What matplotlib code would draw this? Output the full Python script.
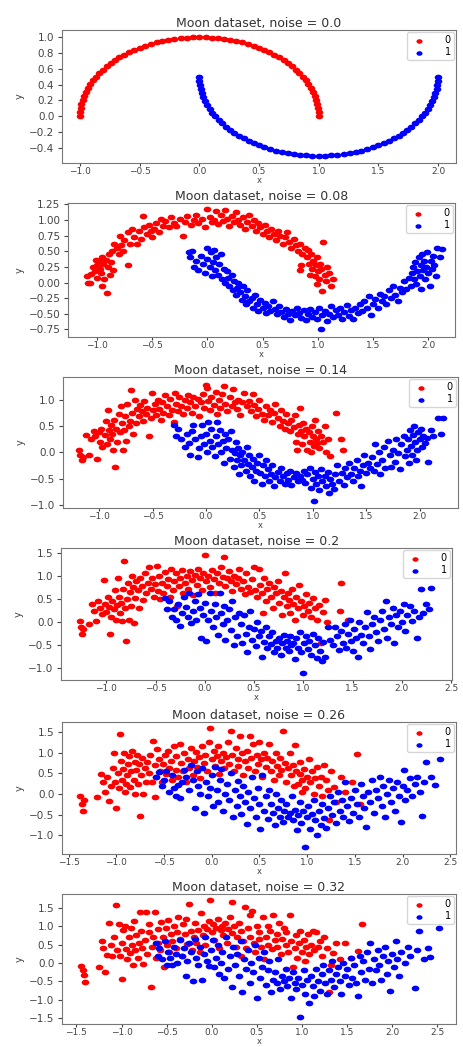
import numpy as np
import matplotlib
matplotlib.use('Agg')
import matplotlib.pyplot as plt
from matplotlib.path import Path
from matplotlib.transforms import Affine2D

noise_labels = ['0.0', '0.08', '0.14', '0.2', '0.26', '0.32']
class_names = ['0', '1']

# noise = 0.0 : the two clean half circles
clean_red_x = [1.0, 0.9986, 0.9945, 0.9877, 0.9781, 0.9659, 0.9511, 0.9336, 0.9135, 0.891, 0.866, 0.8387,
               0.809, 0.7771, 0.7431, 0.7071, 0.6691, 0.6293, 0.5878, 0.5446, 0.5, 0.454, 0.4067, 0.3584,
               0.309, 0.2588, 0.2079, 0.1564, 0.1045, 0.0523, 0.0, -0.0523, -0.1045, -0.1564, -0.2079,
               -0.2588, -0.309, -0.3584, -0.4067, -0.454, -0.5, -0.5446, -0.5878, -0.6293, -0.6691,
               -0.7071, -0.7431, -0.7771, -0.809, -0.8387, -0.866, -0.891, -0.9135, -0.9336, -0.9511,
               -0.9659, -0.9781, -0.9877, -0.9945, -0.9986, -1.0]
clean_red_y = [0.0, 0.0523, 0.1045, 0.1564, 0.2079, 0.2588, 0.309, 0.3584, 0.4067, 0.454, 0.5, 0.5446,
               0.5878, 0.6293, 0.6691, 0.7071, 0.7431, 0.7771, 0.809, 0.8387, 0.866, 0.891, 0.9135, 0.9336,
               0.9511, 0.9659, 0.9781, 0.9877, 0.9945, 0.9986, 1.0, 0.9986, 0.9945, 0.9877, 0.9781, 0.9659,
               0.9511, 0.9336, 0.9135, 0.891, 0.866, 0.8387, 0.809, 0.7771, 0.7431, 0.7071, 0.6691, 0.6293,
               0.5878, 0.5446, 0.5, 0.454, 0.4067, 0.3584, 0.309, 0.2588, 0.2079, 0.1564, 0.1045, 0.0523, 0.0]
clean_blue_x = [0.0, 0.0014, 0.0055, 0.0123, 0.0219, 0.0341, 0.0489, 0.0664, 0.0865, 0.109, 0.134, 0.1613,
                0.191, 0.2229, 0.2569, 0.2929, 0.3309, 0.3707, 0.4122, 0.4554, 0.5, 0.546, 0.5933, 0.6416,
                0.691, 0.7412, 0.7921, 0.8436, 0.8955, 0.9477, 1.0, 1.0523, 1.1045, 1.1564, 1.2079, 1.2588,
                1.309, 1.3584, 1.4067, 1.454, 1.5, 1.5446, 1.5878, 1.6293, 1.6691, 1.7071, 1.7431, 1.7771,
                1.809, 1.8387, 1.866, 1.891, 1.9135, 1.9336, 1.9511, 1.9659, 1.9781, 1.9877, 1.9945, 1.9986, 2.0]
clean_blue_y = [0.5, 0.4477, 0.3955, 0.3436, 0.2921, 0.2412, 0.191, 0.1416, 0.0933, 0.046, 0.0, -0.0446,
                -0.0878, -0.1293, -0.1691, -0.2071, -0.2431, -0.2771, -0.309, -0.3387, -0.366, -0.391,
                -0.4135, -0.4336, -0.4511, -0.4659, -0.4781, -0.4877, -0.4945, -0.4986, -0.5, -0.4986,
                -0.4945, -0.4877, -0.4781, -0.4659, -0.4511, -0.4336, -0.4135, -0.391, -0.366, -0.3387,
                -0.309, -0.2771, -0.2431, -0.2071, -0.1691, -0.1293, -0.0878, -0.0446, 0.0, 0.046, 0.0933,
                0.1416, 0.191, 0.2412, 0.2921, 0.3436, 0.3955, 0.4477, 0.5]

# noise = 0.08
n08_red = [(-1.09, 0.10), (-1.08, 0.00), (-1.06, 0.00), (-1.05, 0.13), (-1.03, 0.25), (-1.02, 0.18), (-1.00, 0.28),
           (-1.00, 0.08), (-0.98, 0.35), (-0.97, 0.22), (-0.96, 0.15), (-0.95, 0.40), (-0.94, 0.30), (-0.93, 0.05),
           (-0.92, 0.36), (-0.91, -0.16), (-0.90, 0.25), (-0.89, 0.45), (-0.88, 0.12), (-0.87, 0.33), (-0.86, 0.50),
           (-0.85, 0.20), (-0.84, 0.62), (-0.95, -0.05), (-1.01, 0.36), (-0.82, 0.55), (-0.80, 0.45), (-0.79, 0.75),
           (-0.78, 0.60), (-0.76, 0.50), (-0.75, 0.68), (-0.72, 0.28), (-0.72, 0.80), (-0.70, 0.62), (-0.68, 0.85),
           (-0.66, 0.73), (-0.64, 0.62), (-0.62, 0.82), (-0.60, 0.70), (-0.58, 1.07), (-0.57, 0.88), (-0.55, 0.78),
           (-0.53, 0.92), (-0.51, 0.82), (-0.50, 0.72), (-0.48, 0.86), (-0.46, 0.95), (-0.44, 0.80), (-0.42, 1.02),
           (-0.40, 0.90), (-0.38, 0.98), (-0.35, 0.88), (-0.33, 1.05), (-0.30, 0.95), (-0.28, 0.90), (-0.25, 1.02),
           (-0.22, 0.75), (-0.20, 0.97), (-0.18, 1.06), (-0.15, 0.92), (-0.12, 1.00), (-0.10, 1.08), (-0.08, 0.95),
           (-0.05, 1.02), (-0.02, 0.88), (0.00, 1.18), (0.02, 1.05), (0.04, 0.97), (0.06, 1.00), (0.08, 1.15),
           (0.10, 0.93), (0.12, 1.08), (0.14, 0.98), (0.16, 1.16), (0.18, 1.02), (0.20, 0.90), (0.22, 1.06),
           (0.24, 0.96), (0.26, 1.12), (0.28, 1.00), (0.30, 0.92), (0.32, 1.05), (0.34, 0.85), (0.36, 0.97),
           (0.38, 1.08), (0.40, 0.90), (0.42, 1.00), (0.44, 0.83), (0.46, 0.95), (0.48, 0.88), (0.50, 0.78),
           (0.52, 0.92), (0.54, 0.82), (0.56, 0.72), (0.58, 0.86), (0.60, 0.78), (0.62, 0.68), (0.64, 0.82),
           (0.66, 0.75), (0.68, 0.62), (0.70, 0.72), (0.72, 0.80), (0.74, 0.65), (0.76, 0.55), (0.78, 0.70),
           (0.80, 0.60), (0.82, 0.50), (0.84, 0.62), (0.86, 0.45), (0.88, 0.55), (0.84, 0.20), (0.85, 0.28),
           (0.90, 0.40), (0.91, 0.52), (0.92, 0.30), (0.94, 0.45), (0.95, 0.22), (0.96, 0.35), (0.97, 0.10),
           (0.98, 0.28), (0.99, 0.40), (1.00, 0.18), (1.01, 0.05), (1.02, 0.30), (1.03, 0.22), (1.04, -0.13),
           (1.05, 0.65), (1.06, 0.12), (1.07, 0.02), (1.08, 0.25), (1.10, 0.15), (1.12, -0.05), (1.14, 0.05),
           (0.93, 0.12), (0.99, -0.02)]
n08_blue = [(-0.17, 0.48), (-0.16, 0.40), (-0.14, 0.50), (-0.12, 0.25), (-0.10, 0.35), (-0.08, 0.20), (-0.06, 0.43),
            (-0.04, 0.30), (-0.02, 0.15), (0.00, 0.55), (0.00, 0.38), (0.02, 0.25), (0.03, 0.48), (0.04, 0.10),
            (0.05, 0.33), (0.06, 0.52), (0.07, 0.20), (0.08, 0.40), (0.10, 0.12), (0.11, 0.30), (0.12, 0.45),
            (0.13, 0.05), (0.15, 0.22), (0.16, 0.00), (0.18, 0.18), (0.19, 0.08), (0.20, -0.05), (0.22, 0.12),
            (0.23, -0.12), (0.24, 0.02), (0.26, -0.20), (0.27, -0.08), (0.28, 0.00), (0.30, -0.15), (0.31, -0.28),
            (0.32, -0.05), (0.34, -0.22), (0.35, -0.35), (0.36, -0.12), (0.38, -0.30), (0.40, -0.25), (0.41, -0.40),
            (0.43, -0.20), (0.45, -0.35), (0.46, -0.45), (0.48, -0.28), (0.50, -0.40), (0.52, -0.32), (0.53, -0.48),
            (0.55, -0.38), (0.57, -0.45), (0.59, -0.30), (0.61, -0.42), (0.63, -0.50), (0.65, -0.38), (0.67, -0.47),
            (0.69, -0.55), (0.71, -0.42), (0.73, -0.50), (0.75, -0.60), (0.77, -0.45), (0.79, -0.52), (0.81, -0.40),
            (0.83, -0.48), (0.85, -0.56), (0.87, -0.44), (0.89, -0.60), (0.91, -0.50), (0.93, -0.42), (0.95, -0.55),
            (0.97, -0.47), (0.99, -0.58), (1.01, -0.40), (1.03, -0.75), (1.04, -0.52), (1.06, -0.45), (1.08, -0.62),
            (1.10, -0.50), (1.12, -0.38), (1.14, -0.55), (1.16, -0.44), (1.18, -0.52), (1.20, -0.40), (1.22, -0.58),
            (1.24, -0.47), (1.26, -0.36), (1.28, -0.53), (1.30, -0.44), (1.32, -0.58), (1.34, -0.40), (1.36, -0.48),
            (1.38, -0.35), (1.40, -0.45), (1.42, -0.30), (1.44, -0.40), (1.46, -0.22), (1.48, -0.52), (1.50, -0.35),
            (1.52, -0.27), (1.54, -0.40), (1.56, -0.18), (1.58, -0.30), (1.60, -0.22), (1.62, -0.35), (1.64, -0.12),
            (1.66, -0.25), (1.68, -0.05), (1.70, -0.20), (1.72, -0.30), (1.74, -0.08), (1.76, -0.15), (1.78, 0.02),
            (1.80, -0.10), (1.82, 0.08), (1.84, -0.05), (1.85, 0.15), (1.86, 0.25), (1.87, 0.05), (1.88, 0.32),
            (1.89, -0.02), (1.90, 0.18), (1.91, 0.40), (1.92, 0.10), (1.93, 0.28), (1.94, 0.45), (1.95, 0.20),
            (1.96, 0.35), (1.97, 0.05), (1.98, 0.25), (1.99, 0.48), (2.00, 0.15), (2.01, -0.05), (2.02, 0.35),
            (2.03, 0.22), (2.04, 0.42), (2.05, 0.28), (2.07, 0.10), (2.08, 0.55), (2.10, 0.40), (2.12, 0.53),
            (1.93, -0.10)]

# noise = 0.14
n14_red = [(-1.19, 0.05), (-1.18, -0.05), (-1.16, -0.15), (-1.15, -0.10), (-1.12, 0.32), (-1.10, -0.05), (-1.08, 0.25),
           (-1.05, 0.40), (-1.04, 0.30), (-1.02, -0.12), (-1.00, 0.38), (-0.99, 0.20), (-0.98, 0.45), (-0.97, 0.10),
           (-0.95, 0.33), (-0.94, 0.60), (-0.93, 0.15), (-0.92, 0.80), (-0.91, 0.42), (-0.90, 0.25), (-0.89, 0.52),
           (-0.88, 0.35), (-0.87, 0.05), (-0.86, 0.62), (-0.85, -0.28), (-0.84, 0.45), (-0.83, 0.20), (-0.82, 0.72),
           (-0.81, 0.38), (-0.80, 0.88), (-0.79, 0.55), (-0.78, 0.05), (-0.77, 0.42), (-0.76, 0.68), (-0.75, 0.22),
           (-0.74, 0.92), (-0.72, 0.50), (-0.71, 0.60), (-0.70, 1.18), (-0.69, 0.75), (-0.68, 0.35), (-0.67, 1.00),
           (-0.66, 0.55), (-0.65, 0.82), (-0.63, 0.68), (-0.62, 0.90), (-0.60, 0.78), (-0.59, 0.60), (-0.58, 0.98),
           (-0.56, 0.72), (-0.55, 0.85), (-0.53, 0.30), (-0.52, 0.65), (-0.51, 1.12), (-0.50, 0.80), (-0.48, 0.92),
           (-0.47, 0.70), (-0.45, 1.00), (-0.44, 0.82), (-0.42, 0.62), (-0.41, 0.95), (-0.40, 0.75), (-0.38, 1.08),
           (-0.37, 0.88), (-0.35, 0.70), (-0.34, 1.02), (-0.32, 0.80), (-0.30, 0.58), (-0.29, 1.12), (-0.28, 0.92),
           (-0.26, 0.78), (-0.25, 1.05), (-0.23, 0.88), (-0.22, 0.72), (-0.20, 1.00), (-0.18, 0.85), (-0.17, 1.08),
           (-0.15, 0.95), (-0.13, 0.75), (-0.12, 1.05), (-0.10, 0.88), (-0.08, 1.02), (-0.07, 0.68), (-0.05, 0.95),
           (-0.03, 1.10), (-0.02, 0.85), (0.00, 1.28), (0.01, 1.22), (0.02, 0.98), (0.04, 0.80), (0.05, 1.05),
           (0.07, 0.90), (0.09, 1.15), (0.10, 0.72), (0.12, 1.00), (0.13, 0.85), (0.15, 1.10), (0.17, 1.25),
           (0.18, 0.92), (0.20, 0.78), (0.22, 1.05), (0.24, 0.88), (0.25, 1.20), (0.27, 0.95), (0.29, 0.82),
           (0.30, 1.00), (0.32, 0.70), (0.34, 0.95), (0.36, 1.12), (0.38, 0.88), (0.40, 0.98), (0.42, 0.78),
           (0.44, 1.10), (0.45, 0.90), (0.47, 0.68), (0.49, 0.82), (0.50, 1.00), (0.52, 0.72), (0.54, 0.62),
           (0.56, 0.88), (0.58, 0.70), (0.60, 0.80), (0.62, 0.58), (0.64, 0.75), (0.65, 0.92), (0.67, 0.65),
           (0.69, 0.50), (0.70, 0.80), (0.72, 0.60), (0.74, 0.45), (0.75, 0.72), (0.77, 0.55), (0.79, 0.40),
           (0.80, 0.62), (0.82, 0.48), (0.83, 0.70), (0.84, 0.20), (0.85, 0.05), (0.86, 0.35), (0.87, 0.52),
           (0.88, 0.85), (0.89, 0.40), (0.90, 0.15), (0.91, 0.55), (0.92, 0.30), (0.94, 0.45), (0.95, 0.05),
           (0.96, 0.38), (0.97, 0.20), (0.99, 0.50), (1.00, 0.30), (1.01, 0.12), (1.02, 0.62), (1.03, 0.25),
           (1.05, 0.40), (1.06, 0.08), (1.08, 0.30), (1.10, 0.20), (1.11, 0.50), (1.12, 0.00), (1.14, 0.25),
           (1.16, -0.08), (1.22, 0.75), (1.26, 0.25), (1.28, 0.05), (0.98, 0.00), (1.04, 0.18)]
n14_blue = [(-0.30, 0.52), (-0.28, 0.30), (-0.26, 0.45), (-0.23, 0.25), (-0.20, 0.10), (-0.18, 0.35), (-0.16, 0.18),
            (-0.15, -0.05), (-0.13, 0.40), (-0.12, 0.52), (-0.10, 0.25), (-0.08, -0.10), (-0.07, 0.08), (-0.05, 0.30),
            (-0.04, 0.52), (-0.02, 0.15), (0.00, 0.35), (0.01, 0.00), (0.02, 0.58), (0.04, 0.22), (0.05, 0.45),
            (0.06, 0.10), (0.08, -0.08), (0.09, 0.30), (0.10, 0.58), (0.11, 0.15), (0.13, 0.42), (0.14, 0.00),
            (0.16, 0.22), (0.17, -0.20), (0.18, 0.35), (0.19, 0.08), (0.21, 0.25), (0.22, -0.12), (0.23, 0.40),
            (0.24, 0.05), (0.26, -0.28), (0.27, -0.02), (0.28, 0.20), (0.29, -0.15), (0.30, 0.08), (0.31, -0.42),
            (0.32, -0.05), (0.33, -0.25), (0.34, 0.00), (0.36, -0.15), (0.37, -0.35), (0.38, 0.10), (0.39, -0.22),
            (0.40, -0.05), (0.41, -0.45), (0.43, -0.28), (0.44, -0.12), (0.45, -0.55), (0.47, -0.35), (0.48, -0.20),
            (0.50, -0.05), (0.51, -0.40), (0.52, -0.60), (0.53, -0.25), (0.55, -0.45), (0.56, -0.15), (0.58, -0.32),
            (0.59, -0.55), (0.61, -0.42), (0.62, -0.25), (0.64, -0.65), (0.65, -0.48), (0.67, -0.38), (0.69, -0.55),
            (0.70, -0.30), (0.72, -0.45), (0.74, -0.60), (0.76, -0.40), (0.77, -0.52), (0.79, -0.35), (0.80, -0.62),
            (0.82, -0.48), (0.84, -0.40), (0.86, -0.55), (0.88, -0.45), (0.90, -0.52), (0.92, -0.35), (0.93, -0.58),
            (0.95, -0.42), (0.97, -0.30), (0.98, -0.68), (1.00, -0.50), (1.01, -0.92), (1.02, -0.38), (1.03, -0.60),
            (1.05, -0.45), (1.06, -0.72), (1.08, -0.32), (1.09, -0.55), (1.11, -0.45), (1.12, -0.65), (1.14, -0.38),
            (1.15, -0.78), (1.16, -0.50), (1.18, -0.60), (1.20, -0.70), (1.21, -0.42), (1.23, -0.25), (1.25, -0.55),
            (1.27, -0.40), (1.29, -0.62), (1.30, -0.30), (1.32, -0.48), (1.34, -0.20), (1.36, -0.42), (1.38, -0.55),
            (1.39, -0.30), (1.41, -0.15), (1.42, -0.45), (1.44, -0.35), (1.45, -0.65), (1.47, -0.25), (1.48, -0.05),
            (1.50, -0.40), (1.52, -0.20), (1.54, -0.30), (1.55, -0.10), (1.57, -0.35), (1.58, 0.15), (1.60, -0.22),
            (1.62, 0.00), (1.63, -0.42), (1.65, -0.15), (1.67, 0.10), (1.68, -0.30), (1.70, 0.22), (1.72, -0.05),
            (1.73, -0.28), (1.75, 0.05), (1.77, -0.18), (1.78, 0.25), (1.80, -0.02), (1.82, -0.32), (1.83, 0.15),
            (1.85, 0.30), (1.86, -0.08), (1.88, 0.05), (1.89, 0.25), (1.90, -0.20), (1.91, 0.42), (1.92, 0.12),
            (1.93, -0.05), (1.94, 0.32), (1.95, 0.50), (1.96, 0.20), (1.97, -0.15), (1.98, 0.05), (1.99, 0.38),
            (2.00, 0.25), (2.01, 0.45), (2.02, 0.10), (2.03, 0.30), (2.05, 0.18), (2.07, 0.28), (2.08, -0.18),
            (2.11, 0.42), (2.13, 0.30), (2.17, 0.65), (2.20, 0.35), (2.22, 0.65)]

# noise = 0.2
n20_red = [(-1.27, 0.02), (-1.26, -0.10), (-1.25, -0.25), (-1.24, -0.15), (-1.18, -0.05), (-1.15, 0.40), (-1.12, 0.25),
           (-1.10, 0.02), (-1.08, 0.45), (-1.06, 0.30), (-1.04, 0.18), (-1.02, 0.90), (-1.01, 0.40), (-1.00, 0.22),
           (-0.98, 0.55), (-0.97, 0.33), (-0.96, -0.25), (-0.95, 0.12), (-0.94, 0.45), (-0.92, 0.28), (-0.91, 0.70),
           (-0.90, 0.05), (-0.89, 0.38), (-0.88, 0.95), (-0.87, 0.55), (-0.86, 0.20), (-0.85, 0.42), (-0.84, 0.02),
           (-0.83, 0.72), (-0.82, 1.32), (-0.81, 0.30), (-0.80, -0.40), (-0.79, 0.50), (-0.78, 0.85), (-0.77, 0.05),
           (-0.76, 0.65), (-0.75, 0.35), (-0.74, 1.00), (-0.73, 0.75), (-0.72, -0.02), (-0.71, 0.52), (-0.70, 0.88),
           (-0.68, 0.70), (-0.67, 0.30), (-0.66, 0.95), (-0.64, 0.78), (-0.63, 0.48), (-0.61, 1.05), (-0.60, 0.62),
           (-0.58, 0.85), (-0.57, 1.20), (-0.55, 0.72), (-0.54, 0.95), (-0.52, 0.55), (-0.51, 0.82), (-0.49, 1.22),
           (-0.48, 0.68), (-0.46, 1.00), (-0.45, 0.50), (-0.43, 0.85), (-0.42, 0.62), (-0.40, 1.08), (-0.38, 0.78),
           (-0.37, 0.92), (-0.35, 0.55), (-0.34, 1.15), (-0.32, 0.70), (-0.31, 0.88), (-0.29, 1.05), (-0.28, 0.35),
           (-0.26, 0.78), (-0.25, 0.95), (-0.23, 1.12), (-0.22, 0.62), (-0.20, 0.85), (-0.18, 1.00), (-0.17, 0.72),
           (-0.15, 1.10), (-0.13, 0.90), (-0.12, 0.58), (-0.10, 1.02), (-0.08, 0.80), (-0.07, 1.15), (-0.05, 0.95),
           (-0.03, 0.70), (-0.02, 1.05), (0.00, 1.45), (0.01, 0.88), (0.03, 1.00), (0.05, 0.75), (0.07, 1.12),
           (0.09, 0.92), (0.10, 0.62), (0.12, 1.05), (0.14, 0.85), (0.16, 1.20), (0.18, 0.98), (0.20, 1.40),
           (0.21, 0.78), (0.23, 0.95), (0.25, 1.10), (0.27, 0.88), (0.28, 0.68), (0.30, 1.00), (0.32, 0.82),
           (0.34, 0.95), (0.35, 1.15), (0.37, 0.72), (0.39, 0.88), (0.41, 0.60), (0.42, 1.05), (0.44, 0.75),
           (0.46, 0.65), (0.48, 0.92), (0.50, 1.20), (0.51, 0.70), (0.53, 0.55), (0.55, 1.15), (0.56, 0.80),
           (0.58, 0.62), (0.59, 0.20), (0.60, 0.95), (0.62, 0.45), (0.63, 0.72), (0.65, 0.85), (0.67, 0.55),
           (0.69, 0.30), (0.70, 0.75), (0.72, 0.62), (0.74, 0.88), (0.75, 0.42), (0.77, 0.68), (0.78, 0.15),
           (0.80, 0.55), (0.81, 1.05), (0.83, 0.35), (0.84, 0.62), (0.86, 0.48), (0.87, 0.20), (0.89, 0.72),
           (0.90, 0.40), (0.92, 0.05), (0.93, 0.55), (0.95, 0.30), (0.96, 0.80), (0.98, 0.45), (1.00, 0.15),
           (1.01, 0.35), (1.03, 0.60), (1.05, 0.25), (1.06, 0.42), (1.08, 0.10), (1.10, 0.52), (1.12, 0.30),
           (1.14, 0.05), (1.16, 0.38), (1.18, -0.45), (1.20, 0.22), (1.22, 0.48), (1.24, 0.00), (1.38, 0.85),
           (1.37, 0.25), (1.45, 0.05)]
n20_blue = [(-0.40, 0.52), (-0.38, 0.28), (-0.36, 0.45), (-0.33, 0.10), (-0.31, 0.28), (-0.29, 0.05), (-0.27, 0.40),
            (-0.25, -0.08), (-0.23, 0.20), (-0.21, 0.55), (-0.19, 0.32), (-0.17, 0.10), (-0.16, 0.62), (-0.14, -0.02),
            (-0.12, 0.25), (-0.10, 0.45), (-0.09, 0.05), (-0.07, 0.60), (-0.05, 0.30), (-0.04, -0.35), (-0.02, 0.15),
            (0.00, 0.42), (0.01, -0.40), (0.03, 0.05), (0.05, 0.62), (0.06, 0.25), (0.08, -0.10), (0.10, 0.40),
            (0.11, 0.10), (0.13, -0.28), (0.15, 0.62), (0.16, 0.20), (0.18, -0.05), (0.20, 0.35), (0.21, -0.38),
            (0.23, 0.05), (0.25, 0.28), (0.27, -0.18), (0.28, 0.45), (0.30, -0.50), (0.31, 0.10), (0.33, -0.30),
            (0.35, 0.20), (0.37, -0.05), (0.38, -0.45), (0.40, 0.15), (0.42, -0.25), (0.43, -0.65), (0.45, -0.10),
            (0.46, 0.25), (0.48, -0.38), (0.50, -0.15), (0.52, -0.52), (0.53, 0.00), (0.55, -0.30), (0.57, -0.20),
            (0.58, -0.75), (0.60, -0.42), (0.62, -0.10), (0.63, -0.55), (0.65, -0.30), (0.67, -0.48), (0.68, -0.22),
            (0.70, -0.65), (0.72, -0.40), (0.73, -0.55), (0.75, -0.35), (0.77, -0.70), (0.78, -0.45), (0.80, -0.28),
            (0.82, -0.55), (0.83, -0.40), (0.85, -0.62), (0.87, -0.30), (0.88, -0.50), (0.90, -0.45), (0.92, -0.80),
            (0.93, -0.35), (0.95, -0.55), (0.97, -0.22), (0.98, -0.65), (1.00, -1.10), (1.01, -0.45), (1.03, -0.30),
            (1.05, -0.58), (1.06, -0.40), (1.08, -0.72), (1.10, -0.25), (1.12, -0.50), (1.14, -0.78), (1.15, -0.35),
            (1.17, -0.62), (1.19, -0.85), (1.20, -0.42), (1.22, -0.75), (1.25, -0.10), (1.27, -0.38), (1.30, -0.50),
            (1.32, -0.10), (1.34, -0.30), (1.36, -0.60), (1.38, -0.20), (1.40, -0.45), (1.42, -0.05), (1.43, -0.55),
            (1.45, -0.25), (1.47, 0.05), (1.48, -0.40), (1.50, -0.62), (1.52, -0.15), (1.54, -0.35), (1.56, -0.75),
            (1.57, 0.00), (1.59, -0.28), (1.61, -0.45), (1.63, -0.10), (1.65, 0.22), (1.67, -0.30), (1.68, -0.58),
            (1.70, -0.05), (1.72, 0.10), (1.74, -0.22), (1.76, -0.40), (1.78, 0.05), (1.80, 0.25), (1.82, -0.15),
            (1.84, 0.45), (1.85, -0.35), (1.87, 0.10), (1.89, -0.05), (1.91, 0.30), (1.92, -0.45), (1.94, 0.15),
            (1.96, -0.10), (1.98, 0.25), (2.00, 0.00), (2.02, 0.40), (2.03, -0.20), (2.05, 0.15), (2.08, 0.35),
            (2.10, 0.02), (2.12, 0.25), (2.15, -0.35), (2.18, 0.10), (2.20, 0.72), (2.22, 0.20), (2.25, 0.40),
            (2.30, 0.73), (2.28, 0.28)]

# noise = 0.26
n26_red = [(-1.38, -0.05), (-1.36, -0.25), (-1.35, -0.40), (-1.34, -0.15), (-1.20, -0.08), (-1.16, 0.48), (-1.14, 0.30),
           (-1.12, 0.05), (-1.10, 0.42), (-1.08, -0.18), (-1.06, 0.20), (-1.04, 0.62), (-1.02, 1.00), (-1.01, 0.28),
           (-1.00, -0.33), (-0.98, 0.50), (-0.97, 0.15), (-0.96, 1.45), (-0.95, 0.80), (-0.94, 0.35), (-0.93, 0.60),
           (-0.92, 1.00), (-0.91, 0.05), (-0.90, 0.25), (-0.89, 0.45), (-0.88, 0.72), (-0.87, 0.92), (-0.86, 0.18),
           (-0.85, 0.55), (-0.84, 1.05), (-0.82, 0.35), (-0.81, 0.00), (-0.80, 0.78), (-0.79, 0.58), (-0.78, 0.95),
           (-0.77, 0.25), (-0.76, 0.72), (-0.75, -0.52), (-0.74, 0.45), (-0.73, 0.88), (-0.72, 0.00), (-0.70, 0.62),
           (-0.69, 0.30), (-0.68, 0.78), (-0.66, 0.50), (-0.65, 0.95), (-0.63, 0.28), (-0.62, 1.28), (-0.60, 0.70),
           (-0.59, -0.08), (-0.58, 0.40), (-0.57, 1.08), (-0.55, 0.85), (-0.54, 0.55), (-0.52, 0.28), (-0.51, 0.72),
           (-0.49, 0.95), (-0.48, 0.48), (-0.46, 1.05), (-0.45, 0.62), (-0.43, 0.80), (-0.42, 0.35), (-0.40, 1.15),
           (-0.38, 0.58), (-0.37, 0.92), (-0.35, 0.40), (-0.33, 1.20), (-0.32, 0.75), (-0.30, 0.55), (-0.29, 1.00),
           (-0.27, 0.30), (-0.25, 0.85), (-0.24, 0.62), (-0.22, 1.10), (-0.20, 0.45), (-0.19, 0.80), (-0.17, 1.02),
           (-0.15, 0.65), (-0.13, 0.90), (-0.12, 0.38), (-0.10, 1.15), (-0.08, 0.75), (-0.07, 0.95), (-0.05, 0.55),
           (-0.03, 1.25), (-0.02, 1.59), (0.00, 0.85), (0.02, 1.05), (0.03, 0.68), (0.05, 0.92), (0.07, 1.15),
           (0.08, 0.48), (0.10, 0.80), (0.12, 1.00), (0.13, 0.62), (0.15, 0.90), (0.17, 1.25), (0.18, 0.72),
           (0.20, 1.52), (0.21, 0.95), (0.23, 0.55), (0.25, 1.10), (0.27, 0.85), (0.28, 0.68), (0.30, 1.40),
           (0.32, 0.98), (0.33, 0.45), (0.35, 0.80), (0.37, 1.05), (0.38, 0.62), (0.40, 1.40), (0.41, 0.88),
           (0.43, 1.20), (0.45, 0.55), (0.47, 0.95), (0.48, 0.72), (0.50, 1.25), (0.52, 0.85), (0.53, 0.42),
           (0.55, 1.00), (0.57, 0.65), (0.58, 0.88), (0.60, 1.20), (0.62, 0.55), (0.63, 0.80), (0.65, 0.35),
           (0.67, 0.98), (0.68, 0.68), (0.70, 0.45), (0.72, 0.88), (0.73, 0.58), (0.75, 1.52), (0.77, 0.75),
           (0.78, 0.30), (0.80, 0.62), (0.82, 1.00), (0.83, 0.45), (0.85, 0.70), (0.87, 1.18), (0.88, 0.55),
           (0.90, 0.25), (0.92, 0.48), (0.93, 0.78), (0.95, 0.35), (0.97, 0.60), (0.98, 0.15), (1.00, 0.42),
           (1.02, 0.85), (1.03, 0.28), (1.05, 0.55), (1.07, 0.00), (1.08, 0.38), (1.10, 0.65), (1.12, 0.20),
           (1.14, 0.42), (1.16, -0.05), (1.18, 0.70), (1.20, 0.35), (1.22, 0.10), (1.23, -0.62), (1.25, 0.55),
           (1.28, 0.18), (1.30, -0.20), (1.35, 0.40), (1.40, 0.05), (1.47, 0.30), (1.52, 0.97), (1.55, -0.25),
           (0.86, 0.20), (0.95, 0.05)]
n26_blue = [(-0.58, 0.40), (-0.55, 0.52), (-0.52, 0.20), (-0.50, 0.35), (-0.48, 0.55), (-0.45, 0.05), (-0.42, 0.45),
            (-0.40, 0.15), (-0.38, -0.05), (-0.35, 0.22), (-0.33, -0.10), (-0.31, 0.30), (-0.29, 0.58), (-0.27, 0.40),
            (-0.24, 0.10), (-0.22, 0.70), (-0.20, 0.35), (-0.18, -0.35), (-0.16, 0.55), (-0.14, 0.20), (-0.12, 0.00),
            (-0.10, 0.62), (-0.08, -0.45), (-0.06, 0.30), (-0.04, -0.05), (-0.02, 0.15), (0.00, 0.45), (0.01, -0.30),
            (0.03, 0.65), (0.05, 0.10), (0.07, -0.20), (0.09, 0.35), (0.10, 0.60), (0.12, -0.40), (0.14, 0.00),
            (0.16, 0.25), (0.18, -0.15), (0.20, 0.50), (0.22, -0.55), (0.24, 0.10), (0.26, -0.30), (0.28, 0.32),
            (0.30, -0.05), (0.31, -0.48), (0.33, 0.20), (0.35, -0.20), (0.37, -0.72), (0.38, 0.05), (0.40, -0.35),
            (0.42, 0.40), (0.44, -0.10), (0.46, -0.55), (0.48, 0.15), (0.50, -0.25), (0.51, -0.85), (0.53, 0.45),
            (0.55, -0.40), (0.57, -0.05), (0.59, -0.60), (0.60, 0.10), (0.62, -0.25), (0.64, -0.45), (0.66, -0.75),
            (0.67, 0.00), (0.69, -0.35), (0.71, -0.55), (0.73, -0.15), (0.75, -0.68), (0.76, -0.40), (0.78, -0.25),
            (0.80, -0.55), (0.82, -0.45), (0.84, -0.05), (0.85, -0.62), (0.87, -0.38), (0.89, -0.88), (0.90, -0.50),
            (0.92, -0.20), (0.94, -0.70), (0.96, -0.42), (0.98, -1.29), (1.00, -0.55), (1.01, -0.30), (1.03, -0.85),
            (1.05, -0.48), (1.07, -0.15), (1.08, -0.62), (1.10, -1.00), (1.12, -0.40), (1.14, -0.75), (1.16, -0.25),
            (1.18, -0.58), (1.20, -0.82), (1.22, -0.35), (1.24, -0.05), (1.26, -0.50), (1.28, -0.20), (1.30, -0.70),
            (1.32, 0.05), (1.34, -0.40), (1.36, -0.15), (1.38, -0.55), (1.40, 0.30), (1.42, -0.30), (1.44, -0.65),
            (1.46, -0.10), (1.48, -0.45), (1.50, 0.10), (1.52, -0.25), (1.54, -0.55), (1.56, 0.25), (1.58, -0.05),
            (1.60, -0.35), (1.62, -0.80), (1.64, 0.05), (1.66, -0.20), (1.68, 0.35), (1.70, -0.45), (1.72, 0.10),
            (1.74, -0.10), (1.76, 0.42), (1.78, -0.30), (1.80, 0.20), (1.82, -0.55), (1.84, 0.00), (1.86, 0.35),
            (1.88, -0.20), (1.90, 0.15), (1.92, -0.40), (1.94, 0.30), (1.96, -0.05), (1.98, -0.68), (2.00, 0.20),
            (2.02, 0.58), (2.03, -0.15), (2.05, 0.10), (2.08, 0.38), (2.10, -0.05), (2.13, 0.25), (2.15, 0.40),
            (2.18, 0.05), (2.20, -0.52), (2.22, 0.30), (2.25, 0.78), (2.30, 0.40), (2.34, 0.22), (2.39, 0.85)]

# noise = 0.32
n32_red = [(-1.45, -0.07), (-1.43, -0.20), (-1.42, -0.33), (-1.41, -0.52), (-1.25, -0.10), (-1.22, 0.60), (-1.20, 0.40),
           (-1.18, -0.25), (-1.16, 0.22), (-1.14, 1.10), (-1.12, 0.50), (-1.10, 0.18), (-1.08, 0.72), (-1.06, 1.58),
           (-1.05, 0.35), (-1.03, 1.05), (-1.02, 0.20), (-1.00, -0.43), (-0.99, 0.55), (-0.98, 0.90), (-0.96, 1.02),
           (-0.95, 0.38), (-0.94, 0.10), (-0.92, 0.70), (-0.91, 0.28), (-0.90, 0.95), (-0.88, 0.50), (-0.87, -0.05),
           (-0.86, 1.15), (-0.85, 0.35), (-0.84, 0.75), (-0.82, 0.15), (-0.81, 0.55), (-0.80, 1.38), (-0.78, 0.88),
           (-0.77, 0.40), (-0.76, -0.02), (-0.74, 0.62), (-0.73, 1.38), (-0.72, 0.25), (-0.70, 0.85), (-0.69, 1.05),
           (-0.67, -0.64), (-0.66, 0.45), (-0.65, 0.70), (-0.63, 1.40), (-0.62, 0.15), (-0.60, 0.92), (-0.59, 0.55),
           (-0.57, 0.35), (-0.56, 1.12), (-0.54, 0.72), (-0.53, -0.10), (-0.51, 0.95), (-0.50, 0.48), (-0.48, 1.18),
           (-0.47, 0.30), (-0.45, 0.80), (-0.44, 0.60), (-0.42, 1.00), (-0.40, 0.40), (-0.38, 0.85), (-0.37, 1.25),
           (-0.35, 0.65), (-0.33, 0.20), (-0.32, 1.05), (-0.30, 0.78), (-0.28, 1.20), (-0.27, 0.52), (-0.25, 1.62),
           (-0.23, 0.88), (-0.22, 0.35), (-0.20, 0.70), (-0.18, 1.10), (-0.17, 0.55), (-0.15, 0.90), (-0.13, 0.30),
           (-0.12, 1.35), (-0.10, 0.75), (-0.08, 1.00), (-0.07, 0.50), (-0.05, 0.92), (-0.03, 1.15), (-0.02, 1.72),
           (0.00, 0.85), (0.02, 1.05), (0.03, 0.62), (0.05, 0.95), (0.07, 1.20), (0.08, 0.40), (0.10, 0.90),
           (0.12, 1.00), (0.13, 0.75), (0.15, 1.08), (0.17, 0.55), (0.18, 0.92), (0.20, 1.25), (0.22, 1.67),
           (0.23, 0.82), (0.25, 1.02), (0.27, 0.45), (0.28, 0.70), (0.30, 1.10), (0.32, 0.88), (0.33, 0.20),
           (0.35, 0.60), (0.37, 1.52), (0.38, 0.40), (0.40, 0.95), (0.42, 1.30), (0.43, 0.72), (0.45, 1.42),
           (0.47, 0.55), (0.48, 0.30), (0.50, 1.00), (0.52, 0.65), (0.53, 0.85), (0.55, 0.45), (0.57, 1.25),
           (0.58, 0.10), (0.60, 0.72), (0.62, 1.00), (0.63, 0.50), (0.65, 0.88), (0.67, 0.38), (0.68, 1.30),
           (0.70, 0.62), (0.72, 0.80), (0.73, 0.45), (0.75, 1.10), (0.77, 0.25), (0.78, 0.65), (0.80, 0.95),
           (0.82, 0.48), (0.83, 0.85), (0.85, 0.30), (0.87, 1.30), (0.88, 0.60), (0.90, -0.10), (0.92, 0.40),
           (0.93, 0.75), (0.95, 0.15), (0.97, 0.55), (0.98, 0.88), (1.00, 0.30), (1.02, 0.62), (1.03, 0.05),
           (1.05, 0.45), (1.07, 0.80), (1.08, 0.25), (1.10, 0.50), (1.12, 0.88), (1.14, 0.35), (1.16, 0.85),
           (1.18, 0.45), (1.20, 0.60), (1.22, 0.20), (1.25, 0.72), (1.28, 0.40), (1.30, -0.78), (1.32, -0.05),
           (1.35, 0.28), (1.38, 0.55), (1.42, 0.10), (1.48, 0.55), (1.62, 0.32), (1.67, 1.07), (1.55, 0.15)]
n32_blue = [(-0.62, 0.55), (-0.60, 0.20), (-0.58, 0.40), (-0.55, 0.10), (-0.52, 0.60), (-0.50, -0.05), (-0.48, 0.30),
            (-0.46, 0.15), (-0.44, -0.05), (-0.42, 0.45), (-0.40, 0.25), (-0.38, 0.00), (-0.35, 0.62), (-0.33, 0.20),
            (-0.31, 0.40), (-0.29, -0.35), (-0.27, 0.05), (-0.25, 0.55), (-0.23, 0.30), (-0.21, -0.50), (-0.19, 0.65),
            (-0.17, 0.15), (-0.15, -0.05), (-0.13, 0.45), (-0.11, -0.45), (-0.09, 0.25), (-0.07, 0.70), (-0.05, 0.05),
            (-0.03, -0.08), (-0.01, 0.35), (0.01, 0.62), (0.03, -0.10), (0.05, 0.15), (0.07, 0.50), (0.08, -0.30),
            (0.10, 0.00), (0.12, 0.30), (0.14, -0.40), (0.16, 0.70), (0.18, -0.15), (0.20, 0.18), (0.22, -0.65),
            (0.24, 0.45), (0.26, -0.05), (0.28, 0.25), (0.30, -0.35), (0.32, 0.60), (0.34, -0.80), (0.36, 0.10),
            (0.38, -0.15), (0.40, 0.35), (0.42, -0.55), (0.44, 0.00), (0.46, -0.25), (0.48, 0.50), (0.50, -0.95),
            (0.52, 0.15), (0.54, -0.40), (0.56, -0.10), (0.58, 0.30), (0.60, -0.60), (0.62, -0.20), (0.64, 0.05),
            (0.66, -0.80), (0.68, -0.45), (0.70, -0.25), (0.72, -0.55), (0.74, 0.10), (0.76, -0.70), (0.78, -0.35),
            (0.80, -0.50), (0.82, -0.15), (0.84, -0.62), (0.86, -0.40), (0.88, -0.95), (0.90, -0.25), (0.92, -0.55),
            (0.94, -0.70), (0.96, -0.40), (0.98, -1.48), (1.00, -0.60), (1.02, -0.20), (1.04, -0.85), (1.06, -0.45),
            (1.08, -1.08), (1.10, -0.35), (1.12, -0.62), (1.14, -0.90), (1.16, -0.15), (1.18, -0.50), (1.20, -0.75),
            (1.22, -0.30), (1.24, -0.05), (1.26, -0.55), (1.28, -0.85), (1.30, -0.20), (1.32, -0.45), (1.34, 0.05),
            (1.36, -0.65), (1.38, -0.30), (1.40, -0.10), (1.42, -0.50), (1.44, -0.85), (1.46, 0.00), (1.48, -0.35),
            (1.50, -0.15), (1.52, -0.60), (1.54, 0.15), (1.56, -0.40), (1.58, -0.05), (1.60, -0.55), (1.62, -0.90),
            (1.64, 0.20), (1.66, -0.25), (1.68, 0.05), (1.70, -0.45), (1.72, 0.30), (1.74, -0.15), (1.76, 0.55),
            (1.78, -0.55), (1.80, 0.10), (1.82, -0.20), (1.84, 0.35), (1.86, -0.05), (1.88, -0.45), (1.90, 0.20),
            (1.92, 0.45), (1.94, -0.30), (1.96, 0.05), (1.98, -0.75), (2.00, 0.25), (2.02, -0.10), (2.04, 0.60),
            (2.06, 0.10), (2.08, -0.35), (2.10, 0.30), (2.14, 0.00), (2.18, 0.45), (2.20, 0.20), (2.25, -0.68),
            (2.28, 0.35), (2.30, 0.88), (2.35, 0.10), (2.42, 0.17), (2.52, 0.96), (2.40, 0.42)]

# axis ranges and ticks
x_limits = [(-1.15, 2.15), (-1.26, 2.24), (-1.34, 2.36), (-1.46, 2.51), (-1.57, 2.56), (-1.66, 2.71)]
y_limits = [(-0.59, 1.09), (-0.87, 1.27), (-1.06, 1.43), (-1.25, 1.60), (-1.45, 1.74), (-1.66, 1.88)]
x_ticks = [[-1.0, -0.5, 0.0, 0.5, 1.0, 1.5, 2.0],
           [-1.0, -0.5, 0.0, 0.5, 1.0, 1.5, 2.0],
           [-1.0, -0.5, 0.0, 0.5, 1.0, 1.5, 2.0],
           [-1.0, -0.5, 0.0, 0.5, 1.0, 1.5, 2.0, 2.5],
           [-1.5, -1.0, -0.5, 0.0, 0.5, 1.0, 1.5, 2.0, 2.5],
           [-1.5, -1.0, -0.5, 0.0, 0.5, 1.0, 1.5, 2.0, 2.5]]
y_ticks = [[-0.4, -0.2, 0.0, 0.2, 0.4, 0.6, 0.8, 1.0],
           [-0.75, -0.5, -0.25, 0.0, 0.25, 0.5, 0.75, 1.0, 1.25],
           [-1.0, -0.5, 0.0, 0.5, 1.0],
           [-1.0, -0.5, 0.0, 0.5, 1.0, 1.5],
           [-1.0, -0.5, 0.0, 0.5, 1.0, 1.5],
           [-1.5, -1.0, -0.5, 0.0, 0.5, 1.0, 1.5]]

W, H = 464, 1047
# axes boxes in pixels: left, top, right, bottom
boxes = [(62, 30, 456, 163), (68, 203, 455, 337), (63, 377, 458, 508),
         (61, 548, 452, 680), (62, 722, 456, 854), (62, 894, 456, 1024)]

# the source image was squeezed vertically, so the dots are slightly flat
dot = Path.unit_circle().transformed(Affine2D().scale(1.0, 0.75))

datasets = [
    ((clean_red_x, clean_red_y), (clean_blue_x, clean_blue_y)),
]
for red, blue in [(n08_red, n08_blue), (n14_red, n14_blue), (n20_red, n20_blue),
                  (n26_red, n26_blue), (n32_red, n32_blue)]:
    r = np.array(red)
    b = np.array(blue)
    datasets.append(((r[:, 0], r[:, 1]), (b[:, 0], b[:, 1])))

fig = plt.figure(figsize=(W / 100, H / 100), dpi=100)

for i, ((rx, ry), (bx, by)) in enumerate(datasets):
    l, t, r_, b_ = boxes[i]
    ax = fig.add_axes([l / W, 1 - b_ / H, (r_ - l) / W, (b_ - t) / H])
    ax.scatter(rx, ry, s=30, c='red', marker=dot, linewidths=0, label=class_names[0])
    ax.scatter(bx, by, s=30, c='blue', marker=dot, linewidths=0, label=class_names[1])
    ax.set_xlim(*x_limits[i])
    ax.set_ylim(*y_limits[i])
    ax.set_xticks(x_ticks[i])
    ax.set_yticks(y_ticks[i])
    ax.tick_params(axis='x', labelsize=6.5, length=2, pad=1, colors='#444444')
    ax.tick_params(axis='y', labelsize=7.5, length=3, pad=2.5, colors='#444444')
    for sp in ax.spines.values():
        sp.set_color('#777777')
    ax.set_title(f'Moon dataset, noise = {noise_labels[i]}', fontsize=9, pad=2.5, color='#333333')
    ax.set_xlabel('x', fontsize=6, labelpad=0, color='#444444')
    ax.set_ylabel('y', fontsize=7, labelpad=3, color='#444444')
    ax.legend(loc='upper right', fontsize=7, handlelength=2.0, handletextpad=1.6, markerscale=0.8,
              borderpad=0.3, labelspacing=0.2, borderaxespad=0.25)

fig.savefig('out.png', dpi=100)
